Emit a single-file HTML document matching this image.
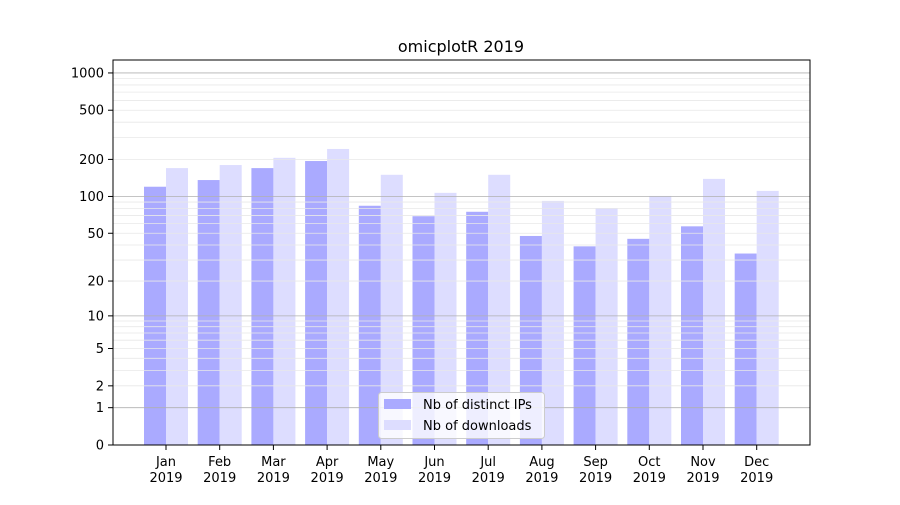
<!DOCTYPE html>
<html><head><meta charset="utf-8"><style>
html,body{margin:0;padding:0;background:#fff;}
svg text{font-family:"DejaVu Sans","Liberation Sans",sans-serif;}
</style></head><body>
<svg width="900" height="500" viewBox="0 0 900 500" xmlns="http://www.w3.org/2000/svg">
<rect width="900" height="500" fill="#fff"/>
<g id="bars"></g>
<g id="grid"></g>
<rect x="113" y="60" width="697" height="385" fill="none" stroke="#000" stroke-width="1"/>
<g id="ticks" font-size="13" fill="#000"></g>
<text x="461" y="52" font-size="16" text-anchor="middle">omicplotR 2019</text>
<g>
<rect x="378.5" y="392.5" width="166" height="46" rx="3" fill="#fff" fill-opacity="0.8" stroke="#ccc"/>
<rect x="384" y="399" width="27" height="10" fill="#aaaaff"/>
<rect x="384" y="420" width="27" height="10" fill="#ddddff"/>
<text x="423" y="409" font-size="13">Nb of distinct IPs</text>
<text x="423" y="430" font-size="13">Nb of downloads</text>
</g>
<script>
var ns="http://www.w3.org/2000/svg";
function el(t,a,p){var e=document.createElementNS(ns,t);for(var k in a)e.setAttribute(k,a[k]);document.getElementById(p).appendChild(e);return e;}
function Y(v){return 445-124*Math.log10(v+1);}
var blue=[120,136,170,194,84,69,75,47.5,39,45,57,34];
var light=[170,180,206,243,150,107,150,92,80,101,139,111];
var months=["Jan","Feb","Mar","Apr","May","Jun","Jul","Aug","Sep","Oct","Nov","Dec"];
for(var i=0;i<12;i++){
 var c=166+i*53.7;
 el("rect",{x:c-22,y:Y(blue[i]),width:22,height:445-Y(blue[i]),fill:"#aaaaff"},"bars");
 el("rect",{x:c,y:Y(light[i]),width:22,height:445-Y(light[i]),fill:"#ddddff"},"bars");
 el("line",{x1:c,x2:c,y1:445,y2:450,stroke:"#000"},"ticks");
 var t=el("text",{x:c,y:466,"text-anchor":"middle"},"ticks");t.textContent=months[i];
 t=el("text",{x:c,y:482,"text-anchor":"middle"},"ticks");t.textContent="2019";
}
var minors=[2,3,4,5,6,7,8,9,20,30,40,50,60,70,80,90,200,300,400,500,600,700,800,900];
minors.forEach(function(v){var y=Y(v);el("line",{x1:113,x2:810,y1:y,y2:y,stroke:"#e8e8e8","stroke-width":0.8},"grid");});
[1,10,100,1000].forEach(function(v){var y=Y(v);el("line",{x1:113,x2:810,y1:y,y2:y,stroke:"#b0b0b0","stroke-width":0.8},"grid");});
[0,1,2,5,10,20,50,100,200,500,1000].forEach(function(v){var y=Y(v);
 el("line",{x1:108,x2:113,y1:y,y2:y,stroke:"#000"},"ticks");
 var t=el("text",{x:104,y:y+4.5,"text-anchor":"end"},"ticks");t.textContent=v;});
</script>
</svg>
</body></html>
